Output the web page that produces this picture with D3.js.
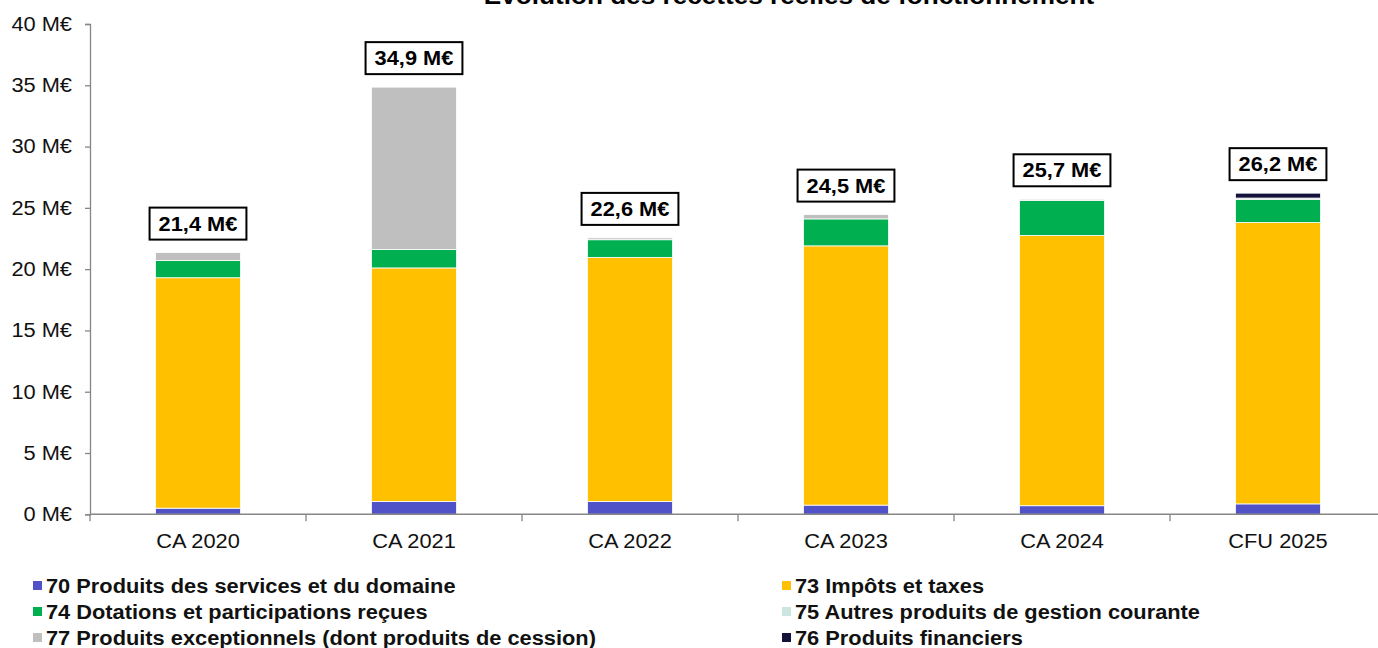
<!DOCTYPE html>
<html>
<head>
<meta charset="utf-8">
<script src="https://cdn.jsdelivr.net/npm/d3@7"></script>
<style>
  body { margin: 0; background: #fff; }
  svg { display: block; font-family: "Liberation Sans", Arial, sans-serif; }
</style>
</head>
<body>
<svg id="chart" width="1378" height="648"></svg>
<script>
// categories and series (M€)
const categories = ["CA 2020", "CA 2021", "CA 2022", "CA 2023", "CA 2024", "CFU 2025"];
const s70 = [0.5, 1.05, 1.05, 0.75, 0.7, 0.85];
const s73 = [18.8, 19.05, 19.9, 21.15, 22.05, 22.95];
const s74 = [1.4, 1.5, 1.45, 2.2, 2.85, 1.9];
const s75 = [0, 0, 0, 0, 0, 0];
const s77 = [0.65, 13.25, 0.15, 0.35, 0.1, 0.1];
const s76 = [0, 0, 0, 0, 0, 0.4];
const totals = ["21,4", "34,9", "22,6", "24,5", "25,7", "26,2"];
const yTicks = [0, 5, 10, 15, 20, 25, 30, 35, 40];

const seriesDefs = [
  {key: "70", name: "70 Produits des services et du domaine", color: "#5252C8", values: s70},
  {key: "73", name: "73 Impôts et taxes", color: "#FFC000", values: s73},
  {key: "74", name: "74 Dotations et participations reçues", color: "#00B050", values: s74},
  {key: "75", name: "75 Autres produits de gestion courante", color: "#CDE5E1", values: s75},
  {key: "77", name: "77 Produits exceptionnels (dont produits de cession)", color: "#BFBFBF", values: s77},
  {key: "76", name: "76 Produits financiers", color: "#12123A", values: s76}
];

// legend order (two columns, rows left then right)
const legendOrder = ["70", "73", "74", "75", "77", "76"];

const svg = d3.select("#chart");
const plotLeft = 90, plotBottom = 514.3, plotTop = 24;
const stretchK = 1.09; // the original text is a bit wider than Arial

// widen text horizontally to match the original rendering
function stretch(sel) {
  sel.each(function() {
    const len = this.getComputedTextLength();
    d3.select(this).attr("textLength", len * stretchK).attr("lengthAdjust", "spacingAndGlyphs");
  });
}

const x = d3.scaleBand()
  .domain(categories)
  .range([plotLeft, plotLeft + 216 * categories.length])
  .paddingInner(0.606)
  .paddingOuter(0.303);

const y = d3.scaleLinear().domain([0, 40]).range([plotBottom, plotTop]);

// table for stacking
const table = categories.map((c, i) => {
  const row = {cat: c};
  seriesDefs.forEach(s => row[s.key] = s.values[i]);
  return row;
});
const stack = d3.stack().keys(seriesDefs.map(s => s.key));
const layers = stack(table);

// title (cut off at the top like the original)
svg.append("text")
  .attr("x", 789).attr("y", 4)
  .attr("text-anchor", "middle")
  .attr("font-size", 24).attr("font-weight", "bold")
  .attr("fill", "#000")
  .text("Évolution des recettes réelles de fonctionnement")
  .call(stretch);

// bars
const gBars = svg.append("g");
layers.forEach((layer, li) => {
  gBars.append("g")
    .attr("fill", seriesDefs[li].color)
    .selectAll("rect")
    .data(layer.filter(d => d[1] - d[0] > 0))
    .join("rect")
    .attr("x", d => x(d.data.cat))
    .attr("width", x.bandwidth())
    .attr("y", d => y(d[1]))
    .attr("height", d => y(d[0]) - y(d[1]))
    .attr("stroke", "#fff")
    .attr("stroke-width", 0.8);
});

// y axis
const yAxis = d3.axisLeft(y).tickValues(yTicks).tickSize(5).tickPadding(13)
  .tickFormat(d => d + " M€");
const gy = svg.append("g").attr("transform", `translate(${plotLeft},0)`).call(yAxis);
gy.select(".domain").attr("stroke", "#868686").attr("stroke-width", 1.3);
gy.selectAll(".tick line").attr("stroke", "#868686").attr("stroke-width", 1.3);
gy.selectAll(".tick text").attr("font-size", 20).attr("fill", "#111")
  .attr("font-family", "Liberation Sans, Arial, sans-serif")
  .call(stretch);

// x axis line with ticks at category boundaries
const xRight = 1378;
svg.append("line")
  .attr("x1", plotLeft).attr("x2", xRight)
  .attr("y1", plotBottom).attr("y2", plotBottom)
  .attr("stroke", "#868686").attr("stroke-width", 1.6);
const bounds = categories.map((c, i) => x.range()[0] + i * x.step());
svg.append("g").selectAll("line")
  .data(bounds)
  .join("line")
  .attr("x1", d => d).attr("x2", d => d)
  .attr("y1", plotBottom).attr("y2", plotBottom + 7)
  .attr("stroke", "#868686").attr("stroke-width", 1.3);
svg.append("g").selectAll("text")
  .data(categories)
  .join("text")
  .attr("x", d => x(d) + x.bandwidth() / 2)
  .attr("y", plotBottom + 34)
  .attr("text-anchor", "middle")
  .attr("font-size", 20).attr("fill", "#111")
  .text(d => d)
  .call(stretch);

// total labels in boxes
const gLab = svg.append("g");
categories.forEach((c, i) => {
  const topVal = layers[layers.length - 1][i][1];
  const cx = x(c) + x.bandwidth() / 2;
  const cy = y(topVal) - 29;
  const g = gLab.append("g");
  const t = g.append("text")
    .attr("x", cx).attr("y", cy + 7)
    .attr("text-anchor", "middle")
    .attr("font-size", 20).attr("font-weight", "bold").attr("fill", "#000")
    .text(totals[i] + " M€")
    .call(stretch);
  const w = t.node().getComputedTextLength() * stretchK + 11;
  g.insert("rect", "text")
    .attr("x", cx - w / 2).attr("y", cy - 16)
    .attr("width", w).attr("height", 32)
    .attr("fill", "#fff").attr("stroke", "#000").attr("stroke-width", 2);
});

// legend
const legendPos = [[33, 586], [782, 586], [33, 612], [782, 612], [33, 638], [782, 638]];
const gLeg = svg.append("g");
legendOrder.forEach((k, i) => {
  const s = seriesDefs.find(d => d.key === k);
  const [lx, ly] = legendPos[i];
  gLeg.append("rect")
    .attr("x", lx).attr("y", ly - 5)
    .attr("width", 9).attr("height", 9)
    .attr("fill", s.color);
  gLeg.append("text")
    .attr("x", lx + 13).attr("y", ly + 7)
    .attr("font-size", 20).attr("font-weight", "bold").attr("fill", "#111")
    .text(s.name)
    .call(stretch);
});
</script>
</body>
</html>
